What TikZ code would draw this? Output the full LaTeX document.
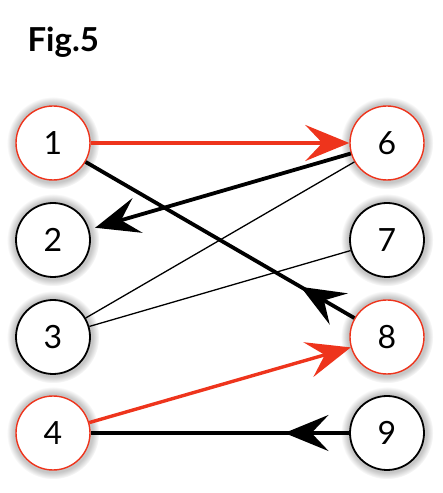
\documentclass[tikz,border=0pt]{standalone}
\usepackage{fontspec}
\setmainfont{Lato}
\usetikzlibrary{arrows.meta,shadows,decorations.markings}
\definecolor{figred}{RGB}{238,52,28}
\tikzset{
  vertex/.style={circle, minimum size=74pt, inner sep=0pt, fill=white, line width=1.8pt, draw=black,
    circular glow={fill=black!22}, font=\fontsize{32}{32}\selectfont},
  vertexred/.style={vertex, draw=figred, line width=1.4pt},
  boldline/.style={line width=3.8pt},
  redline/.style={line width=3.4pt, draw=figred, fill=figred},
  thinline/.style={line width=1.3pt},
  markhead/.style={postaction={decorate}, decoration={markings, mark=at position #1 with {\arrow{>}}}}
}
\begin{document}
\begin{tikzpicture}[x=1pt, y=1pt, >={Stealth[length=44pt, width=36pt, inset=17pt]}]
			%%%%% START %%%%%
			\useasboundingbox (0, 0) rectangle (443, 493);
			
			\node[anchor=base west, font=\fontsize{33}{33}\selectfont\bfseries] (title) at (24, 441) {Fig.5};
			
			\node[vertexred] (n1) at (53, 350) {1};
			\node[vertex] (n2) at (53, 253) {2};
			\node[vertex] (n3) at (53, 156) {3};
			\node[vertexred] (n4) at (53, 60) {4};
			
			\node[vertexred] (n6) at (387, 350) {6};
			\node[vertex] (n7) at (387, 253) {7};
			\node[vertexred] (n8) at (387, 156) {8};
			\node[vertex] (n9) at (387, 60) {9};
			
			\draw[thinline] (n6) -- (n3);
			\draw[thinline] (n7) -- (n3);
			
			\draw[boldline, ->, shorten >=6pt] (n6) -- (n2);
			\draw[boldline, markhead=0.2] (n8) -- (n1);
			\draw[boldline, markhead=0.25] (n9) -- (n4);
			
			\draw[redline, ->] (n1) -- (n6);
			\draw[redline, ->] (n4) -- (n8);
			
			%%%%% END %%%%%
\end{tikzpicture}
\end{document}
